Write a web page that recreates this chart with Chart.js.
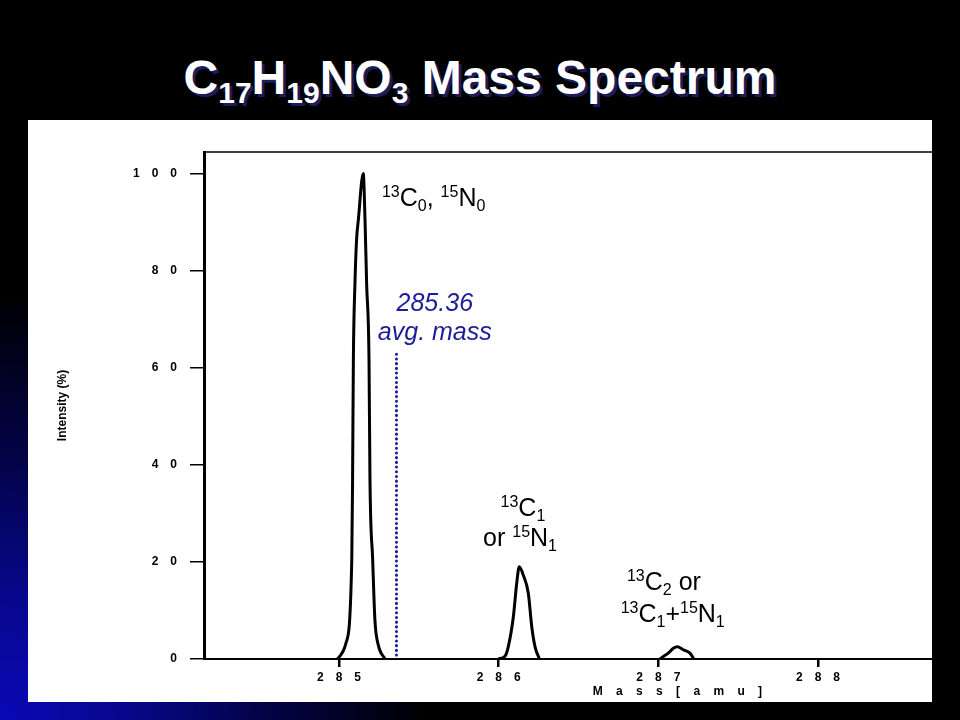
<!DOCTYPE html>
<html>
<head>
<meta charset="utf-8">
<script src="https://cdn.jsdelivr.net/npm/chart.js@4"></script>
<style>
  body {
    margin: 0;
    width: 960px;
    height: 720px;
    overflow: hidden;
    background: radial-gradient(ellipse 430px 430px at 0px 720px, #0a0ab8 0%, #07078a 30%, #03034a 60%, #000 100%), #000;
    font-family: "Liberation Sans", Arial, sans-serif;
  }
  #title {
    position: absolute;
    top: 54px;
    left: 0;
    width: 960px;
    text-align: center;
    color: #fff;
    font-weight: bold;
    font-size: 48px;
    line-height: 48px;
    text-shadow: 3px 3px 0 #1c1c5c;
  }
  #title sub {
    font-size: 30px;
    line-height: 0;
    vertical-align: -9px;
  }
  #panel {
    position: absolute;
    left: 28px;
    top: 120px;
    width: 904px;
    height: 582px;
    background: #fff;
  }
</style>
</head>
<body>
<div id="title">C<sub>17</sub>H<sub>19</sub>NO<sub>3</sub> Mass Spectrum</div>
<div id="panel"><canvas id="spectrum" width="904" height="582"></canvas></div>
<script>
// axis ticks
const massTicks = [285, 286, 287, 288];
const intensityTicks = [0, 20, 40, 60, 80, 100];

// monoisotopic peak (13C0, 15N0)
const peak0Mass = [284.99, 285.044, 285.080, 285.085, 285.090, 285.100, 285.110, 285.121, 285.152,
                   285.163, 285.173, 285.188, 285.194, 285.211, 285.225, 285.246, 285.288];
const peak0Int  = [0, 3.3, 20.4, 36.9, 61.6, 77.4, 86.3, 90.4, 100,
                   90.4, 77.4, 61.6, 36.9, 20.4, 8.0, 2.9, 0];

// 13C1 or 15N1
const peak1Mass = [285.998, 286.040, 286.060, 286.092, 286.113, 286.129, 286.154, 286.186, 286.207, 286.228, 286.255];
const peak1Int  = [0, 0.6, 2.5, 8.7, 15.6, 19.0, 17.3, 13.5, 6.7, 2.5, 0];

// 13C2 or 13C1+15N1
const peak2Mass = [287.010, 287.031, 287.062, 287.094, 287.119, 287.156, 287.198, 287.223];
const peak2Int  = [0, 0.5, 1.2, 2.2, 2.5, 1.9, 1.2, 0];

// average mass marker
const avgMass = 285.36;
const avgLineInt = [0.8, 63.2];

function toPoints(xs, ys) {
  return xs.map((v, i) => ({ x: v, y: ys[i] }));
}

// spaced digits, like "2 8 5"
function spaced(v) {
  return String(v).split('').join('\u2003');
}

const FONT = '"Liberation Sans", Arial, sans-serif';
const NAVY = '#1c1c96';

// labels: position in data units, runs of [text, 'n' | 'sup' | 'sub']
const labels = [
  { x: 285.269, y: 93.3, align: 'left', color: '#000', italic: false,
    runs: [['13', 'sup'], ['C', 'n'], ['0', 'sub'], [', ', 'n'], ['15', 'sup'], ['N', 'n'], ['0', 'sub']] },
  { x: 285.60, y: 71.6, align: 'center', color: NAVY, italic: true, runs: [['285.36', 'n']] },
  { x: 285.60, y: 65.7, align: 'center', color: NAVY, italic: true, runs: [['avg. mass', 'n']] },
  { x: 286.152, y: 29.5, align: 'center', color: '#000', italic: false,
    runs: [['13', 'sup'], ['C', 'n'], ['1', 'sub']] },
  { x: 286.134, y: 23.3, align: 'center', color: '#000', italic: false,
    runs: [['or ', 'n'], ['15', 'sup'], ['N', 'n'], ['1', 'sub']] },
  { x: 287.035, y: 14.2, align: 'center', color: '#000', italic: false,
    runs: [['13', 'sup'], ['C', 'n'], ['2', 'sub'], [' or', 'n']] },
  { x: 287.09, y: 7.6, align: 'center', color: '#000', italic: false,
    runs: [['13', 'sup'], ['C', 'n'], ['1', 'sub'], ['+', 'n'], ['15', 'sup'], ['N', 'n'], ['1', 'sub']] }
];

function drawRuns(ctx, lab, px, py) {
  const big = 25, small = 16;
  const style = lab.italic ? 'italic ' : '';
  let w = 0;
  lab.runs.forEach(r => {
    ctx.font = style + (r[1] === 'n' ? big : small) + 'px ' + FONT;
    w += ctx.measureText(r[0]).width;
  });
  let cx = lab.align === 'center' ? px - w / 2 : px;
  ctx.fillStyle = lab.color;
  ctx.textAlign = 'left';
  ctx.textBaseline = 'alphabetic';
  lab.runs.forEach(r => {
    ctx.font = style + (r[1] === 'n' ? big : small) + 'px ' + FONT;
    const dy = r[1] === 'sup' ? -9 : r[1] === 'sub' ? 5 : 0;
    ctx.fillText(r[0], cx, py + dy);
    cx += ctx.measureText(r[0]).width;
  });
}

const overlay = {
  id: 'overlay',
  afterDraw(chart) {
    const { ctx, chartArea, scales: { x, y } } = chart;
    ctx.save();
    // top frame line
    ctx.strokeStyle = '#000';
    ctx.lineWidth = 1.5;
    ctx.beginPath();
    ctx.moveTo(chartArea.left, chartArea.top);
    ctx.lineTo(chartArea.right, chartArea.top);
    ctx.stroke();

    labels.forEach(l => drawRuns(ctx, l, x.getPixelForValue(l.x), y.getPixelForValue(l.y)));

    // x axis title
    ctx.font = 'bold 12px ' + FONT;
    ctx.letterSpacing = '5px';
    ctx.fillStyle = '#000';
    ctx.textAlign = 'left';
    ctx.fillText('M a s s [ a m u ]', chartArea.left + 0.534 * (chartArea.right - chartArea.left), chartArea.bottom + 36);
    ctx.restore();
  }
};

const peakStyle = {
  borderColor: '#000',
  borderWidth: 3,
  pointRadius: 0,
  showLine: true,
  cubicInterpolationMode: 'monotone',
  fill: false
};

new Chart(document.getElementById('spectrum'), {
  type: 'scatter',
  data: {
    datasets: [
      Object.assign({ data: toPoints(peak0Mass, peak0Int) }, peakStyle),
      Object.assign({ data: toPoints(peak1Mass, peak1Int) }, peakStyle),
      Object.assign({ data: toPoints(peak2Mass, peak2Int) }, peakStyle),
      {
        data: toPoints([avgMass, avgMass], avgLineInt),
        borderColor: NAVY,
        borderWidth: 3,
        borderDash: [0.1, 4.6],
        borderCapStyle: 'round',
        pointRadius: 0,
        showLine: true
      }
    ]
  },
  options: {
    responsive: false,
    animation: false,
    layout: { padding: { top: 32, right: 0, left: 0, bottom: 0 } },
    plugins: { legend: { display: false }, tooltip: { enabled: false } },
    scales: {
      x: {
        type: 'linear',
        min: 284.1545,
        max: 288.714,
        afterBuildTicks: s => { s.ticks = massTicks.map(v => ({ value: v })); },
        afterFit: s => { s.height = 43; },
        ticks: {
          callback: v => spaced(v),
          color: '#000',
          font: { family: FONT, size: 12, weight: 'bold' },
          padding: 3,
          maxRotation: 0
        },
        grid: { drawOnChartArea: false, drawTicks: true, tickLength: 8, color: '#000', lineWidth: 2.5 },
        border: { display: true, color: '#000', width: 2 }
      },
      y: {
        min: 0,
        max: 104.43,
        afterBuildTicks: s => { s.ticks = intensityTicks.map(v => ({ value: v })); },
        afterFit: s => { s.width = 176; },
        ticks: {
          callback: v => spaced(v),
          color: '#000',
          font: { family: FONT, size: 12, weight: 'bold' },
          padding: 13
        },
        grid: { drawOnChartArea: false, drawTicks: true, tickLength: 14, color: '#000', lineWidth: 1.5 },
        border: { display: true, color: '#000', width: 3 },
        title: {
          display: true,
          text: 'Intensity (%)',
          color: '#000',
          font: { family: FONT, size: 12, weight: 'bold' },
          padding: { top: 27, bottom: 0 }
        }
      }
    }
  },
  plugins: [overlay]
});
</script>
</body>
</html>
